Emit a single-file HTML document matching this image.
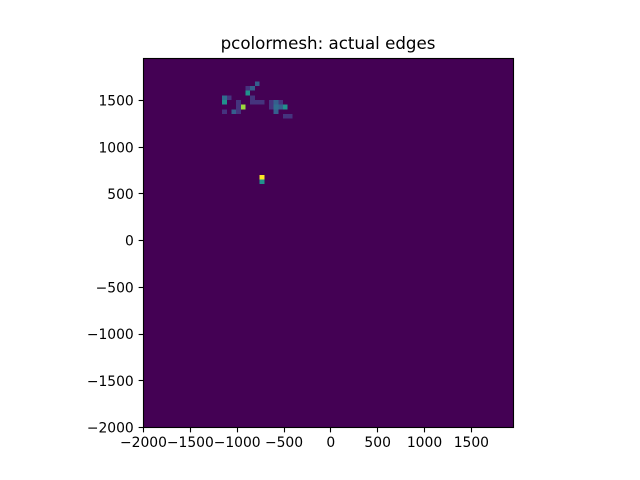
<!DOCTYPE html>
<html>
<head>
<meta charset="utf-8">
<style>
html,body{margin:0;padding:0;background:#fff;}
svg{display:block;}
text{font-family:"DejaVu Sans",sans-serif;fill:#000;}
</style>
</head>
<body>
<svg id="chart" width="640" height="480" viewBox="0 0 640 480" xmlns="http://www.w3.org/2000/svg">
  <rect x="0" y="0" width="640" height="480" fill="#fff"/>
  <text x="328" y="49" text-anchor="middle" font-size="16.67">pcolormesh: actual edges</text>
  <g id="mesh" shape-rendering="crispEdges"></g>
  <g id="axes"></g>
</svg>
<script>
const xTicks = [-2000, -1500, -1000, -500, 0, 500, 1000, 1500];
const yTicks = [-2000, -1500, -1000, -500, 0, 500, 1000, 1500];
const xDomain = [-2000, 1950];
const yDomain = [-2000, 1950];
const binSize = [50];
const countMax = [20];
const cellX = [-800, -900, -850, -900, -850, -850, -800, -750, -1150, -1100, -1150, -1000, -1000, -950, -1150, -1050, -1000, -650, -650, -600, -600, -600, -550, -550, -500, -500, -450, -750, -750];
const cellY = [1650, 1600, 1600, 1550, 1500, 1450, 1450, 1450, 1500, 1500, 1450, 1450, 1400, 1400, 1350, 1350, 1350, 1450, 1400, 1450, 1400, 1350, 1450, 1400, 1400, 1300, 1300, 650, 600];
const cellCount = [6, 3, 6, 10, 3, 3, 3, 3, 7, 3, 10, 3, 3, 17, 3, 6, 3, 3, 3, 6, 7, 6, 3, 6, 10, 3, 3, 20, 10];
const viridis = ["#440154", "#482475", "#414487", "#355f8d", "#2a788e", "#21918c", "#22a884", "#44bf70", "#7ad151", "#bddf26", "#fde725"];

const NS = "http://www.w3.org/2000/svg";
const left = 143.5, right = 513.5, top_ = 58.5, bottom = 427.5;
const meshNudgeX = -1, meshNudgeY = -0.5;

function xScale(v) {
  return left + (v - xDomain[0]) / (xDomain[1] - xDomain[0]) * (right - left);
}
function yScale(v) {
  return bottom - (v - yDomain[0]) / (yDomain[1] - yDomain[0]) * (bottom - top_);
}
function snap(p) {
  return Math.floor(p) + 0.5;
}
function hexToRgb(h) {
  return [1, 3, 5].map(function (i) { return parseInt(h.substr(i, 2), 16); });
}
function colorFor(count) {
  const t = Math.max(0, Math.min(1, count / countMax[0])) * (viridis.length - 1);
  const i = Math.min(Math.floor(t), viridis.length - 2);
  const a = hexToRgb(viridis[i]), b = hexToRgb(viridis[i + 1]);
  const f = t - i;
  return "rgb(" + a.map(function (c, k) { return Math.round(c + (b[k] - c) * f); }).join(",") + ")";
}
function make(tag, attrs, parent) {
  const el = document.createElementNS(NS, tag);
  Object.keys(attrs).forEach(function (k) { el.setAttribute(k, attrs[k]); });
  parent.appendChild(el);
  return el;
}
function label(v) {
  return v < 0 ? "\u2212" + Math.abs(v) : String(v);
}

const mesh = document.getElementById("mesh");
const axes = document.getElementById("axes");

const bg = make("rect", { x: left, y: top_, width: right - left, height: bottom - top_, fill: colorFor(0) }, mesh);



cellX.forEach(function (xv, i) {
  const x0 = xScale(xv) + meshNudgeX, x1 = xScale(xv + binSize[0]) + meshNudgeX;
  const y0 = yScale(cellY[i] + binSize[0]) + meshNudgeY, y1 = yScale(cellY[i]) + meshNudgeY;
  const r = make("rect", { x: x0, y: y0, width: x1 - x0, height: y1 - y0, fill: colorFor(cellCount[i]) }, mesh);
  
  
});

xTicks.forEach(function (v) {
  const x = xScale(v);
  const t = make("line", { x1: snap(x), x2: snap(x), y1: bottom, y2: bottom + 4.86, stroke: "#000", "stroke-width": 1.11 }, axes);
  
  
  const l = make("text", { x: x, y: 447, "text-anchor": "middle", "font-size": 13.89 }, axes);
  l.textContent = label(v);
  
  
});

yTicks.forEach(function (v) {
  const y = yScale(v);
  const t = make("line", { x1: left - 4.86, x2: left, y1: snap(y), y2: snap(y), stroke: "#000", "stroke-width": 1.11 }, axes);
  
  
  const l = make("text", { x: left - 9.72, y: y + 5.05, "text-anchor": "end", "font-size": 13.89 }, axes);
  l.textContent = label(v);
  
  
});

const frame = make("rect", { x: left, y: top_, width: right - left, height: bottom - top_, fill: "none", stroke: "#000", "stroke-width": 1.11 }, axes);


</script>
</body>
</html>
